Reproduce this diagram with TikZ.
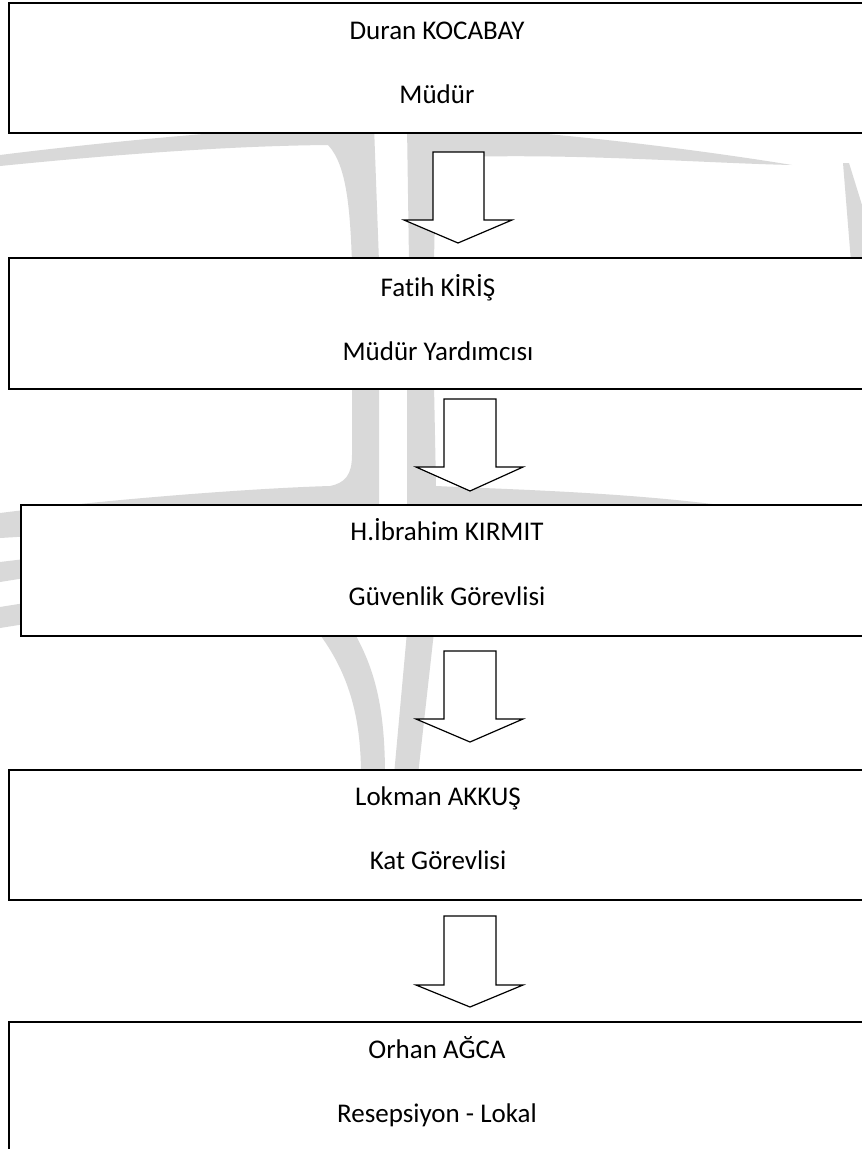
\documentclass[tikz,border=0pt]{standalone}
\usepackage{fontspec}
\setmainfont{Carlito}[Ligatures=NoCommon]
\definecolor{wmgray}{RGB}{217,217,217}
\begin{document}
\begin{tikzpicture}[x=1pt,y=-1pt,
  box/.style={draw=black, line width=1.5pt, fill=white, rectangle, inner sep=0pt, outer sep=0pt, anchor=north west},
  txt/.style={font=\fontsize{27}{31}\selectfont, inner sep=0pt, anchor=base},
  blk/.style={draw=black, line width=1.2pt, fill=white, line join=miter},
  wmark/.style={fill=wmgray}]
\useasboundingbox (0,0) rectangle (862,1149);
\clip (0,0) rectangle (862,1149);
\fill[white] (0,0) rectangle (862,1149);

% ---- watermark ----
% gap 1: left page + trunk
\fill[wmark] (0,155) .. controls (120,140) and (260,128) .. (335,126) -- (374,126)
  -- (379,262) -- (352,262) .. controls (350,210) and (347,165) .. (328,145)
  .. controls (220,146) and (100,156) .. (0,166) -- cycle;
% gap 1: right bar + right page
\fill[wmark] (407,126) -- (434,126) .. controls (560,132) and (700,150) .. (792,165)
  .. controls (700,163) and (560,152) .. (436,158) -- (434,262) -- (409,262) -- cycle;
% far right wedge
\fill[wmark] (843,163) -- (849,163) -- (862,205) -- (862,262) -- (851,262) -- cycle;
% gap 2: left trunk with left page
\fill[wmark] (352,385) -- (379,385) -- (379,515) -- (0,538) -- (0,513)
  .. controls (120,498) and (260,488) .. (330,486)
  .. controls (345,483) and (352,475) .. (352,455) -- cycle;
% gap 2: right bar with right page
\fill[wmark] (407,385) -- (434,385) -- (436,486)
  .. controls (500,489) and (620,492) .. (720,505) -- (720,515) -- (407,515) -- cycle;
% left small wedges
\fill[wmark] (0,562) -- (25,559) -- (25,578) -- (0,582) -- cycle;
\fill[wmark] (0,607) -- (25,603) -- (25,624) -- (0,628) -- cycle;
% gap 3: Y-shaped trunk
\fill[wmark] (318,632) -- (354,632) .. controls (372,665) and (385,700) .. (385,775)
  -- (361,775) .. controls (361,715) and (348,672) .. (318,632) -- cycle;
\fill[wmark] (407,632) -- (434,632) -- (418,775) -- (394,775) -- cycle;

% ---- boxes ----
\node[box, minimum width=856pt, minimum height=130pt] (b1) at (9,3) {};
\node[box, minimum width=858pt, minimum height=131pt] (b2) at (9,258) {};
\node[box, minimum width=852pt, minimum height=131pt] (b3) at (21,505) {};
\node[box, minimum width=858pt, minimum height=130pt] (b4) at (9,770) {};
\node[box, minimum width=856pt, minimum height=150pt] (b5) at (9,1022) {};

% ---- texts ----
\node[txt] (b1a) at (437,39) {Duran KOCABAY};
\node[txt] (b1b) at (437,103) {Müdür};
\node[txt] (b2a) at (438,296) {Fatih KİRİŞ};
\node[txt] (b2b) at (438,360) {Müdür Yardımcısı};
\node[txt] (b3a) at (447,540) {H.İbrahim KIRMIT};
\node[txt] (b3b) at (447,605) {Güvenlik Görevlisi};
\node[txt] (b4a) at (438,805) {Lokman AKKUŞ};
\node[txt] (b4b) at (438,869) {Kat Görevlisi};
\node[txt] (b5a) at (437,1058) {Orhan AĞCA};
\node[txt] (b5b) at (437,1122) {Resepsiyon - Lokal};

% ---- block arrows ----
\draw[blk] (433,152) -- (484,152) -- (484,220) -- (512,220) -- (458,243) -- (404,220) -- (433,220) -- cycle;
\draw[blk] (444,399) -- (496,399) -- (496,467) -- (523,467) -- (470,491) -- (416,467) -- (444,467) -- cycle;
\draw[blk] (444,651) -- (496,651) -- (496,719) -- (523,719) -- (470,742) -- (416,719) -- (444,719) -- cycle;
\draw[blk] (444,916) -- (496,916) -- (496,985) -- (523,985) -- (470,1007) -- (416,985) -- (444,985) -- cycle;
\end{tikzpicture}
\end{document}
